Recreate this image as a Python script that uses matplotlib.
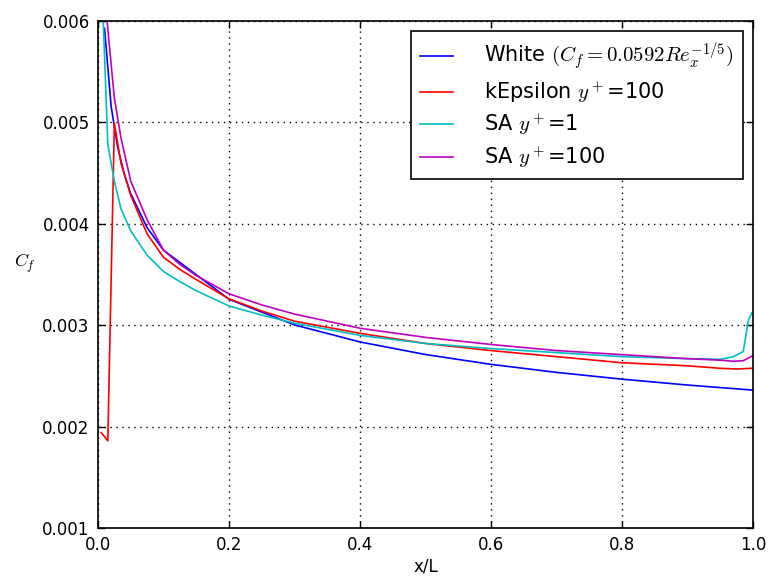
import numpy as np
import matplotlib
matplotlib.use('Agg')
import matplotlib.pyplot as plt

plt.rcParams['mathtext.fontset'] = 'cm'
plt.rcParams['font.size'] = 12

# White correlation, Cf = 0.0592 Re_x^-1/5
x_white = [0.01, 0.02, 0.03, 0.04, 0.05, 0.075, 0.1, 0.2, 0.3, 0.4, 0.5, 0.6, 0.7, 0.8, 0.9, 1.0]
cf_white = [0.005928, 0.005161, 0.004757, 0.004493, 0.004297, 0.003962, 0.003740, 0.003256,
            0.003003, 0.002835, 0.002711, 0.002614, 0.002535, 0.002468, 0.002410, 0.002360]

# kEpsilon y+ = 100
x_ke = [0.005, 0.015, 0.025, 0.035, 0.05, 0.075, 0.1, 0.125, 0.15, 0.2, 0.25, 0.3, 0.4,
        0.5, 0.6, 0.7, 0.8, 0.9, 0.95, 0.975, 1.0]
cf_ke = [0.00194, 0.00186, 0.00499, 0.00460, 0.00428, 0.00390, 0.00367, 0.00355, 0.00345,
         0.00326, 0.00314, 0.00304, 0.00292, 0.00282, 0.00275, 0.00269, 0.00263, 0.00260,
         0.002575, 0.002568, 0.002576]

# SA y+ = 1
x_sa1 = [0.004, 0.015, 0.02, 0.025, 0.035, 0.05, 0.075, 0.1, 0.125, 0.15, 0.2, 0.25, 0.3,
         0.4, 0.5, 0.6, 0.7, 0.8, 0.9, 0.95, 0.97, 0.985, 0.993, 0.998]
cf_sa1 = [0.0067, 0.00478, 0.00460, 0.00442, 0.00415, 0.00393, 0.00369, 0.00353, 0.00343,
          0.00334, 0.00319, 0.00310, 0.00302, 0.00290, 0.00282, 0.00277, 0.00273, 0.00269,
          0.00267, 0.002664, 0.00269, 0.00274, 0.00305, 0.00312]

# SA y+ = 100
x_sa100 = [0.005, 0.025, 0.035, 0.05, 0.075, 0.1, 0.125, 0.15, 0.2, 0.25, 0.3, 0.4, 0.5,
           0.6, 0.7, 0.8, 0.9, 0.95, 0.97, 0.985, 1.0]
cf_sa100 = [0.0066, 0.00524, 0.00485, 0.00442, 0.00404, 0.00374, 0.00360, 0.00349, 0.00331,
            0.00320, 0.00311, 0.00297, 0.00288, 0.00281, 0.00275, 0.00271, 0.00267, 0.002655,
            0.002645, 0.00265, 0.00270]

fig = plt.figure(figsize=(7.71, 5.76), dpi=100)
ax = fig.add_axes([0.1271, 0.0833, 0.8496, 0.8802])

ax.plot(x_white, cf_white, color='#0000ff', lw=1.2, label=r'White $(C_f=0.0592Re_x^{-1/5})$')
ax.plot(x_ke, cf_ke, color='#ff0000', lw=1.2, label=r'kEpsilon $y^+$=100')
ax.plot(x_sa1, cf_sa1, color='#00bfbf', lw=1.2, label=r'SA $y^+$=1')
ax.plot(x_sa100, cf_sa100, color='#bf00bf', lw=1.2, label=r'SA $y^+$=100')

ax.set_xlim(0, 1)
ax.set_ylim(0.001, 0.006)
ax.set_xticks([0.0, 0.2, 0.4, 0.6, 0.8, 1.0])
ax.set_yticks([0.001, 0.002, 0.003, 0.004, 0.005, 0.006])
ax.tick_params(direction='in', top=True, right=True, length=5, width=1, pad=6)
ax.grid(True, color='black', linestyle=(0, (1, 3.3)), linewidth=1)
for s in ax.spines.values():
    s.set_linewidth(1.2)

ax.set_xlabel('x/L', labelpad=2)
ax.set_ylabel(r'$C_f$', rotation=0, fontsize=13)
ax.yaxis.set_label_coords(-0.112, 0.5)

leg = ax.legend(loc='upper right', fancybox=False, framealpha=1, edgecolor='black',
                borderaxespad=0.5, handlelength=1.55, handletextpad=1.5, borderpad=0.45,
                labelspacing=0.36, fontsize=15)
leg.get_frame().set_linewidth(1.2)

plt.savefig('out.png', dpi=100)
